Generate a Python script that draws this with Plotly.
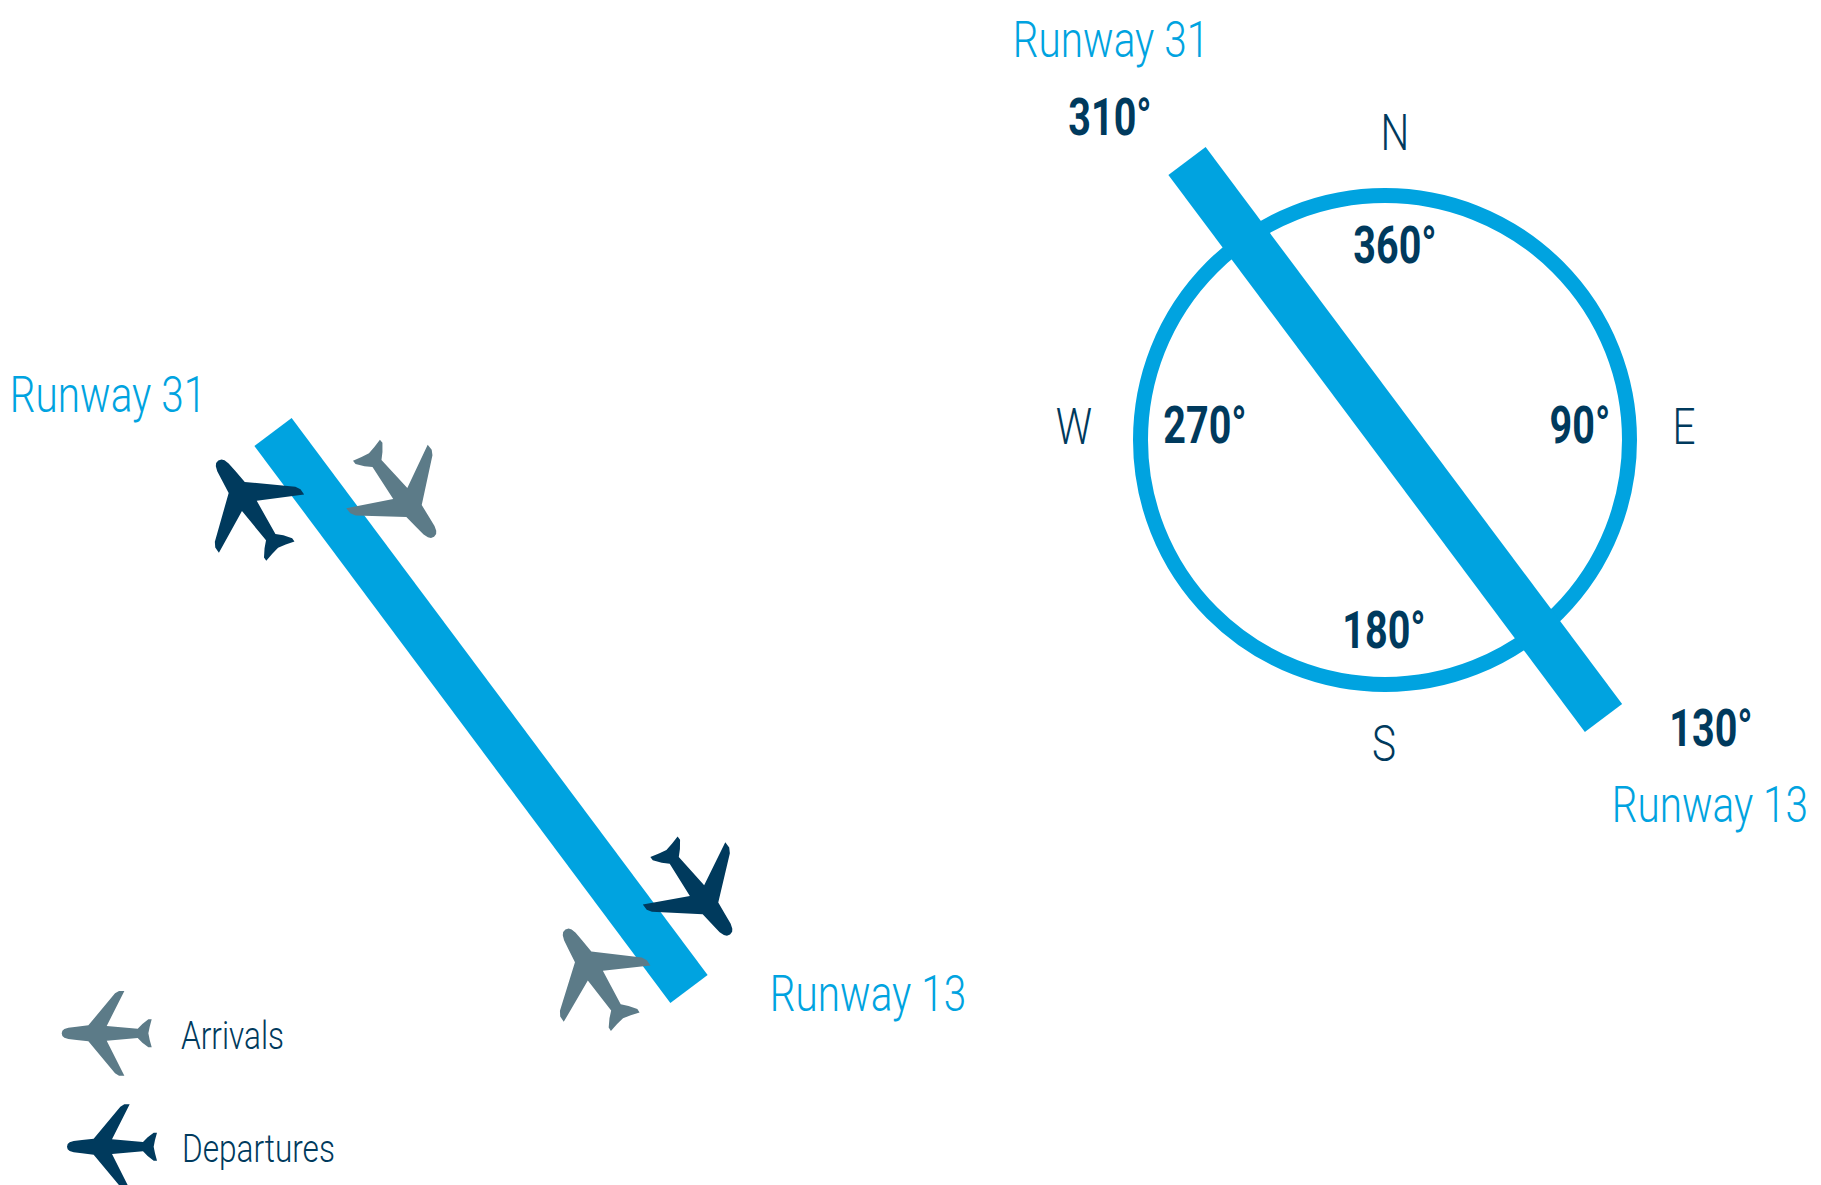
import numpy as np
import plotly.graph_objects as go

BLUE = "#00A3E0"
DARK = "#003A5D"
GRAY = "#5C7B88"
WIDTH, HEIGHT = 1821, 1185

# aeroplane silhouette (three-times enlarged units), nose pointing left, origin between the wing tips
plane_x = [-180,-178,-172,-160,-135,-100,-20,-8,8,-45,48,62,80,90,84,80,84,90,80,62,48,-45,8,-8,-20,-100,-135,-160,-172,-178]
plane_y = [0,-8,-13,-17,-20,-24,-120,-127,-127,-22,-14,-28,-42,-42,-20,0,20,42,42,28,14,22,127,127,120,24,20,17,13,8]

# runways
runway_left_x = [273, 689]
runway_left_y = [432, 989]
runway_right_x = [1187, 1603.5]
runway_right_y = [161, 718]

# compass ring
ring_x, ring_y, ring_size, ring_stroke = 1385, 440, 489, 15

# planes: wing-tip midpoint, scale, rotation
arrivals_x = [121.7, 389, 605.3]
arrivals_y = [1033.3, 479, 991]
arrivals_scale = [1.0, 1.22, 1.22]
arrivals_rot = [0, 232, 57]
departures_x = [127, 259.7, 686]
departures_y = [1146.7, 521, 876]
departures_scale = [1.0, 1.22, 1.22]
departures_rot = [0, 55.6, 233]

# text
runway_labels = ["Runway 31", "Runway 13", "Runway 31", "Runway 13"]
runway_label_x = [108, 868, 1111, 1808]
runway_label_y = [399, 998, 44, 809]
runway_label_pos = ["middle center", "middle center", "middle center", "middle left"]
degree_labels = ["310°", "360°", "270°", "90°", "180°", "130°"]
degree_x = [1110, 1395, 1205, 1580, 1384, 1711]
degree_y = [122, 250, 430, 430, 635, 733]
compass_labels = ["N", "W", "E", "S"]
compass_x = [1395, 1074, 1684, 1384]
compass_y = [137, 431, 431, 748]
legend_labels = ["Arrivals", "Departures"]
legend_x = [181, 182]
legend_y = [1039, 1152]

FONT = "Roboto"


def plane_trace(cx, cy, s, rot, color, name):
    t = np.radians(rot)
    px, py = np.array(plane_x, float) * s / 3, np.array(plane_y, float) * s / 3
    x = cx + px * np.cos(t) - py * np.sin(t)
    y = cy + px * np.sin(t) + py * np.cos(t)
    return go.Scatter(x=np.r_[x, x[0]], y=np.r_[y, y[0]], mode="lines", fill="toself",
                      fillcolor=color, line=dict(width=0, color=color), name=name,
                      hoverinfo="name", showlegend=False)


fig = go.Figure()
fig.add_trace(go.Scatter(x=[ring_x], y=[ring_y], mode="markers", showlegend=False, hoverinfo="skip",
                         marker=dict(symbol="circle-open", size=ring_size, color=BLUE,
                                     line=dict(width=ring_stroke, color=BLUE))))
for rx, ry in ((runway_left_x, runway_left_y), (runway_right_x, runway_right_y)):
    fig.add_trace(go.Scatter(x=rx, y=ry, mode="lines", line=dict(color=BLUE, width=46.5),
                             showlegend=False, hoverinfo="skip"))
for i in range(3):
    fig.add_trace(plane_trace(arrivals_x[i], arrivals_y[i], arrivals_scale[i], arrivals_rot[i], GRAY, "Arrivals"))
    fig.add_trace(plane_trace(departures_x[i], departures_y[i], departures_scale[i], departures_rot[i], DARK, "Departures"))


def text_trace(x, y, text, size, color, pos="middle center", weight=300):
    return go.Scatter(x=x, y=y, text=text, mode="text", textposition=pos, showlegend=False, hoverinfo="skip",
                      textfont=dict(family=FONT, size=size, color=color, weight=weight))


fig.add_trace(text_trace(runway_label_x, runway_label_y, runway_labels, 50, BLUE, pos=runway_label_pos))
fig.add_trace(text_trace(degree_x, degree_y, degree_labels, 52, DARK, weight=700))
fig.add_trace(text_trace(compass_x, compass_y, compass_labels, 50, DARK))
fig.add_trace(text_trace(legend_x, legend_y, legend_labels, 38, DARK, pos="middle right"))

fig.update_layout(width=WIDTH, height=HEIGHT, margin=dict(l=0, r=0, t=0, b=0),
                  paper_bgcolor="white", plot_bgcolor="white", showlegend=False,
                  xaxis=dict(range=[0, WIDTH], visible=False, fixedrange=True),
                  yaxis=dict(range=[HEIGHT, 0], visible=False, fixedrange=True))

# the reference's typeface is condensed: narrow the real text nodes horizontally
NARROWING = """
document.body.style.margin = '0';
function narrow() {
  document.querySelectorAll('.textpoint text').forEach(function (t) {
    if (t.getAttribute('textLength')) return;
    var s = getComputedStyle(t);
    var r = parseInt(s.fontWeight) >= 600 ? 0.76 : (parseFloat(s.fontSize) < 45 ? 0.83 : 0.81);
    t.setAttribute('lengthAdjust', 'spacingAndGlyphs');
    t.setAttribute('textLength', t.getComputedTextLength() * r);
  });
}
narrow();
setTimeout(narrow, 0);
"""
fig.write_html("out.html", post_script=NARROWING, config=dict(displayModeBar=False))
